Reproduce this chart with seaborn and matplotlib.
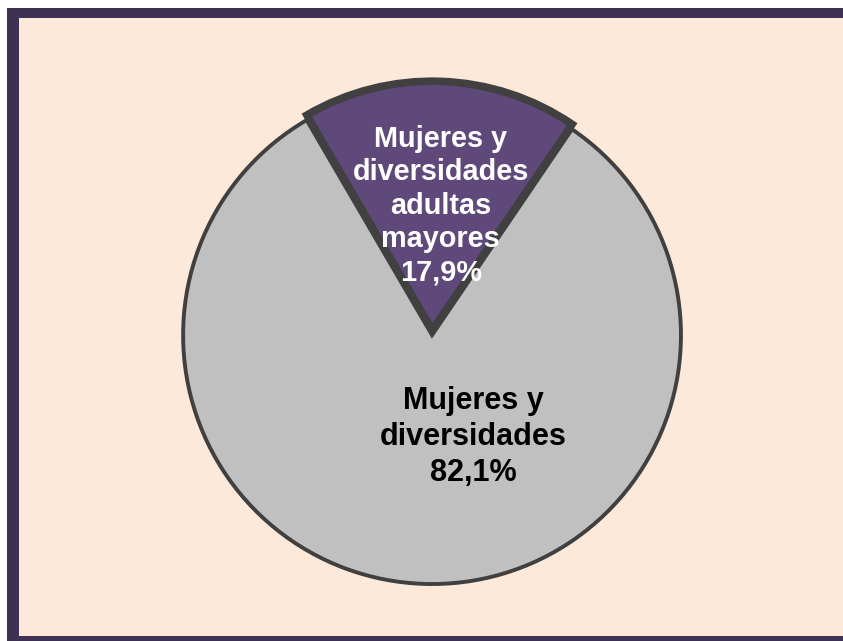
import seaborn as sns
import matplotlib.pyplot as plt
from matplotlib.patches import Rectangle

categories = ["Mujeres y\ndiversidades\nadultas\nmayores", "Mujeres y\ndiversidades"]
shares = [17.9, 82.1]
colors = ["#5f497a", "#c0c0c0"]
label_colors = ["white", "black"]

sns.set_theme(style="white")
plt.rcParams['font.family'] = ['Liberation Sans', 'DejaVu Sans']

fig = plt.figure(figsize=(8.43, 6.41), dpi=100)
fig.patch.set_facecolor("white")
# frame
fig.patches.append(Rectangle((7/843, 0), 1, 633/641, transform=fig.transFigure,
                             facecolor="#3f3154", edgecolor="none", zorder=-10))
fig.patches.append(Rectangle((19/843, 5/641), 1, 618/641, transform=fig.transFigure,
                             facecolor="#fde9d9", edgecolor="none", zorder=-9))

ax = fig.add_axes([0.158, 0.0112, 0.709, 0.932])
ax.set_facecolor("none")
wedges, _ = ax.pie(shares, colors=colors, startangle=55.8, counterclock=True,
                   explode=[0.02, 0], wedgeprops=dict(edgecolor="#404040"))
wedges[0].set_linewidth(5.5)
wedges[0].set_zorder(3)
wedges[1].set_linewidth(2.8)
wedges[1].set_zorder(2)
ax.set_xlim(-1.2, 1.2)
ax.set_ylim(-1.2, 1.2)
ax.axis("off")

label_pos = [(0.035, 0.52), (0.165, -0.41)]
sizes = [20.8, 22]
for name, val, pos, c, s in zip(categories, shares, label_pos, label_colors, sizes):
    ax.text(pos[0], pos[1], f"{name}\n{val:.1f}%".replace(".", ","), ha="center", va="center",
            color=c, fontsize=s, fontweight="bold", linespacing=1.25, zorder=5)

fig.savefig("out.png", dpi=100)
